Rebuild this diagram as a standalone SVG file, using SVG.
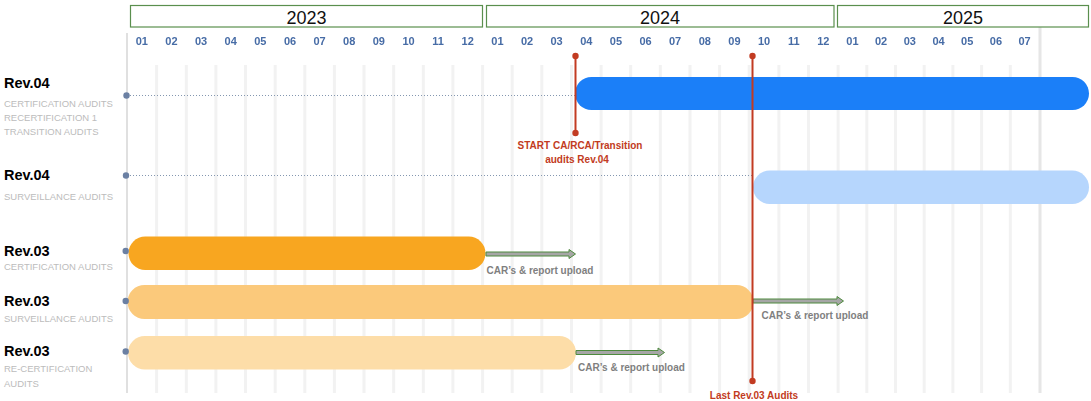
<svg xmlns="http://www.w3.org/2000/svg" width="1091" height="401" viewBox="0 0 1091 401">
  <defs>
    <style>
      .year-box { fill: #ffffff; stroke: #5a8f4e; stroke-width: 1.2; }
      .year { font-family: "Liberation Sans", Arial, sans-serif; font-size: 18px; fill: #111111; text-anchor: middle; }
      .month { font-family: "Liberation Sans", Arial, sans-serif; font-size: 11px; font-weight: bold; fill: #476ca6; text-anchor: middle; }
      .grid { stroke: #f2f2f2; stroke-width: 3; }
      .axis { stroke: #e0e0e0; stroke-width: 2; }
      .rev { font-family: "Liberation Sans", Arial, sans-serif; font-size: 14.5px; font-weight: bold; fill: #000000; }
      .sub { font-family: "Liberation Sans", Arial, sans-serif; font-size: 9.5px; fill: #bcbcbc; }
      .dot { fill: #6b80a3; }
      .lead { stroke: #8497b0; stroke-width: 1; stroke-dasharray: 1 2; fill: none; }
      .ms-line { stroke: #c23b22; stroke-width: 2; }
      .ms-dot { fill: #c23b22; }
      .ms-text { font-family: "Liberation Sans", Arial, sans-serif; font-size: 10px; font-weight: bold; fill: #c23b22; text-anchor: middle; }
      .upload { fill: #a6a6a6; stroke: #4e8a3e; stroke-width: 1; }
      .upload-text { font-family: "Liberation Sans", Arial, sans-serif; font-size: 10px; font-weight: bold; fill: #7f7f7f; }
    </style>
    <filter id="soft" x="-5%" y="-50%" width="110%" height="200%">
      <feGaussianBlur stdDeviation="0.35"/>
    </filter>
  </defs>

  <rect x="0" y="0" width="1091" height="401" fill="#ffffff"/>

  <!-- month grid -->
  <g id="grid">
    <g class="grid">
      <line x1="156.6" y1="65" x2="156.6" y2="393"/>
      <line x1="186.3" y1="65" x2="186.3" y2="393"/>
      <line x1="215.9" y1="65" x2="215.9" y2="393"/>
      <line x1="245.5" y1="65" x2="245.5" y2="393"/>
      <line x1="275.2" y1="65" x2="275.2" y2="393"/>
      <line x1="304.8" y1="65" x2="304.8" y2="393"/>
      <line x1="334.4" y1="65" x2="334.4" y2="393"/>
      <line x1="364.0" y1="65" x2="364.0" y2="393"/>
      <line x1="393.7" y1="65" x2="393.7" y2="393"/>
      <line x1="423.3" y1="65" x2="423.3" y2="393"/>
      <line x1="452.9" y1="65" x2="452.9" y2="393"/>
      <line x1="482.6" y1="65" x2="482.6" y2="393"/>
      <line x1="512.2" y1="65" x2="512.2" y2="393"/>
      <line x1="541.8" y1="65" x2="541.8" y2="393"/>
      <line x1="571.5" y1="65" x2="571.5" y2="393"/>
      <line x1="601.1" y1="65" x2="601.1" y2="393"/>
      <line x1="630.7" y1="65" x2="630.7" y2="393"/>
      <line x1="660.3" y1="65" x2="660.3" y2="393"/>
      <line x1="690.0" y1="65" x2="690.0" y2="393"/>
      <line x1="719.6" y1="65" x2="719.6" y2="393"/>
      <line x1="749.2" y1="65" x2="749.2" y2="393"/>
      <line x1="778.9" y1="65" x2="778.9" y2="393"/>
      <line x1="808.5" y1="65" x2="808.5" y2="393"/>
      <line x1="838.1" y1="65" x2="838.1" y2="393"/>
      <line x1="866.8" y1="65" x2="866.8" y2="393"/>
      <line x1="895.5" y1="65" x2="895.5" y2="393"/>
      <line x1="924.2" y1="65" x2="924.2" y2="393"/>
      <line x1="952.9" y1="65" x2="952.9" y2="393"/>
      <line x1="981.6" y1="65" x2="981.6" y2="393"/>
      <line x1="1010.3" y1="65" x2="1010.3" y2="393"/>
    </g>
    <line class="axis" x1="127" y1="33" x2="127" y2="393"/>
    <line x1="1040" y1="15" x2="1040" y2="393" stroke="#e6e6e6" stroke-width="3"/>
  </g>

  <!-- year headers -->
  <g id="years">
    <rect class="year-box" x="130.5" y="5.5" width="352" height="21.5"/>
    <text class="year" x="306.5" y="24">2023</text>
    <rect class="year-box" x="486.5" y="5.5" width="347.5" height="21.5"/>
    <text class="year" x="660" y="24">2024</text>
    <rect class="year-box" x="837.5" y="5.5" width="251" height="21.5"/>
    <text class="year" x="963" y="24">2025</text>
  </g>

  <!-- month numbers -->
  <g id="months" filter="url(#soft)">
    <text class="month" x="141.8" y="45">01</text>
    <text class="month" x="171.4" y="45">02</text>
    <text class="month" x="201.1" y="45">03</text>
    <text class="month" x="230.7" y="45">04</text>
    <text class="month" x="260.3" y="45">05</text>
    <text class="month" x="290.0" y="45">06</text>
    <text class="month" x="319.6" y="45">07</text>
    <text class="month" x="349.2" y="45">08</text>
    <text class="month" x="378.8" y="45">09</text>
    <text class="month" x="408.5" y="45">10</text>
    <text class="month" x="438.1" y="45">11</text>
    <text class="month" x="467.7" y="45">12</text>
    <text class="month" x="497.4" y="45">01</text>
    <text class="month" x="527.0" y="45">02</text>
    <text class="month" x="556.6" y="45">03</text>
    <text class="month" x="586.3" y="45">04</text>
    <text class="month" x="615.9" y="45">05</text>
    <text class="month" x="645.5" y="45">06</text>
    <text class="month" x="675.1" y="45">07</text>
    <text class="month" x="704.8" y="45">08</text>
    <text class="month" x="734.4" y="45">09</text>
    <text class="month" x="764.0" y="45">10</text>
    <text class="month" x="793.7" y="45">11</text>
    <text class="month" x="823.3" y="45">12</text>
    <text class="month" x="852.4" y="45">01</text>
    <text class="month" x="881.1" y="45">02</text>
    <text class="month" x="909.8" y="45">03</text>
    <text class="month" x="938.5" y="45">04</text>
    <text class="month" x="967.2" y="45">05</text>
    <text class="month" x="995.9" y="45">06</text>
    <text class="month" x="1024.6" y="45">07</text>
  </g>

  <!-- Rev.04 certification / recertification / transition -->
  <g id="rev04-certification">
    <text class="rev" x="4" y="87.5">Rev.04</text>
    <text class="sub" x="4" y="106.5">CERTIFICATION AUDITS</text>
    <text class="sub" x="4" y="120.5">RECERTIFICATION 1</text>
    <text class="sub" x="4" y="134.5">TRANSITION AUDITS</text>
    <line class="lead" x1="127" y1="95.5" x2="575" y2="95.5"/>
    <circle class="dot" cx="126.5" cy="95.5" r="3.2"/>
    <rect x="575" y="77" width="514" height="33" rx="16.5" fill="#1b7ff8"/>
  </g>

  <!-- Rev.04 surveillance -->
  <g id="rev04-surveillance">
    <text class="rev" x="4" y="180">Rev.04</text>
    <text class="sub" x="4" y="199.5">SURVEILLANCE AUDITS</text>
    <line class="lead" x1="127" y1="175.5" x2="753" y2="175.5"/>
    <circle class="dot" cx="126" cy="175.5" r="3.2"/>
    <rect x="753" y="170.5" width="336" height="33.5" rx="16.75" fill="#b6d6fd"/>
  </g>

  <!-- Rev.03 certification -->
  <g id="rev03-certification">
    <text class="rev" x="4" y="255.5">Rev.03</text>
    <text class="sub" x="4" y="270">CERTIFICATION AUDITS</text>
    <rect x="128.5" y="236.5" width="357" height="33.5" rx="16.75" fill="#f8a620"/>
    <circle class="dot" cx="125.7" cy="251" r="3.2"/>
  </g>

  <!-- Rev.03 surveillance -->
  <g id="rev03-surveillance">
    <text class="rev" x="4" y="305.5">Rev.03</text>
    <text class="sub" x="4" y="321.5">SURVEILLANCE AUDITS</text>
    <rect x="127.5" y="285" width="626" height="34" rx="17" fill="#fbc97b"/>
    <circle class="dot" cx="125.7" cy="301" r="3.2"/>
  </g>

  <!-- Rev.03 re-certification -->
  <g id="rev03-recertification">
    <text class="rev" x="4" y="356">Rev.03</text>
    <text class="sub" x="4" y="371.5">RE-CERTIFICATION</text>
    <text class="sub" x="4" y="386.5">AUDITS</text>
    <rect x="128" y="336" width="448" height="33.5" rx="16.75" fill="#fddda8"/>
    <circle class="dot" cx="125.7" cy="351.5" r="3.2"/>
  </g>

  <!-- upload arrows following each Rev.03 bar -->
  <g id="connectors">
    <path class="upload" d="M486,252 H569 V249.5 L575.5,254 L569,258.5 V256 H486 Z"/>
    <text class="upload-text" x="486.5" y="273.5">CAR’s &amp; report upload</text>
    <path class="upload" d="M753,299 H837 V296.5 L843.5,301 L837,305.5 V303 H753 Z"/>
    <text class="upload-text" x="761.5" y="319">CAR’s &amp; report upload</text>
    <path class="upload" d="M576,350.5 H658 V348 L664.5,352.5 L658,357 V354.5 H576 Z"/>
    <text class="upload-text" x="578" y="371">CAR’s &amp; report upload</text>
  </g>

  <!-- milestones -->
  <g id="milestone-start-rev04">
    <line class="ms-line" x1="575.5" y1="56" x2="575.5" y2="133"/>
    <circle class="ms-dot" cx="575.5" cy="56" r="3.2"/>
    <circle class="ms-dot" cx="575.5" cy="133" r="3.2"/>
    <text class="ms-text" x="580" y="149">START CA/RCA/Transition</text>
    <text class="ms-text" x="577" y="162.5">audits Rev.04</text>
  </g>
  <g id="milestone-last-rev03">
    <line class="ms-line" x1="752.5" y1="56" x2="752.5" y2="381"/>
    <circle class="ms-dot" cx="752.5" cy="56" r="3.2"/>
    <circle class="ms-dot" cx="752.5" cy="381" r="3.2"/>
    <text class="ms-text" x="754" y="398.5">Last Rev.03 Audits</text>
  </g>
</svg>
